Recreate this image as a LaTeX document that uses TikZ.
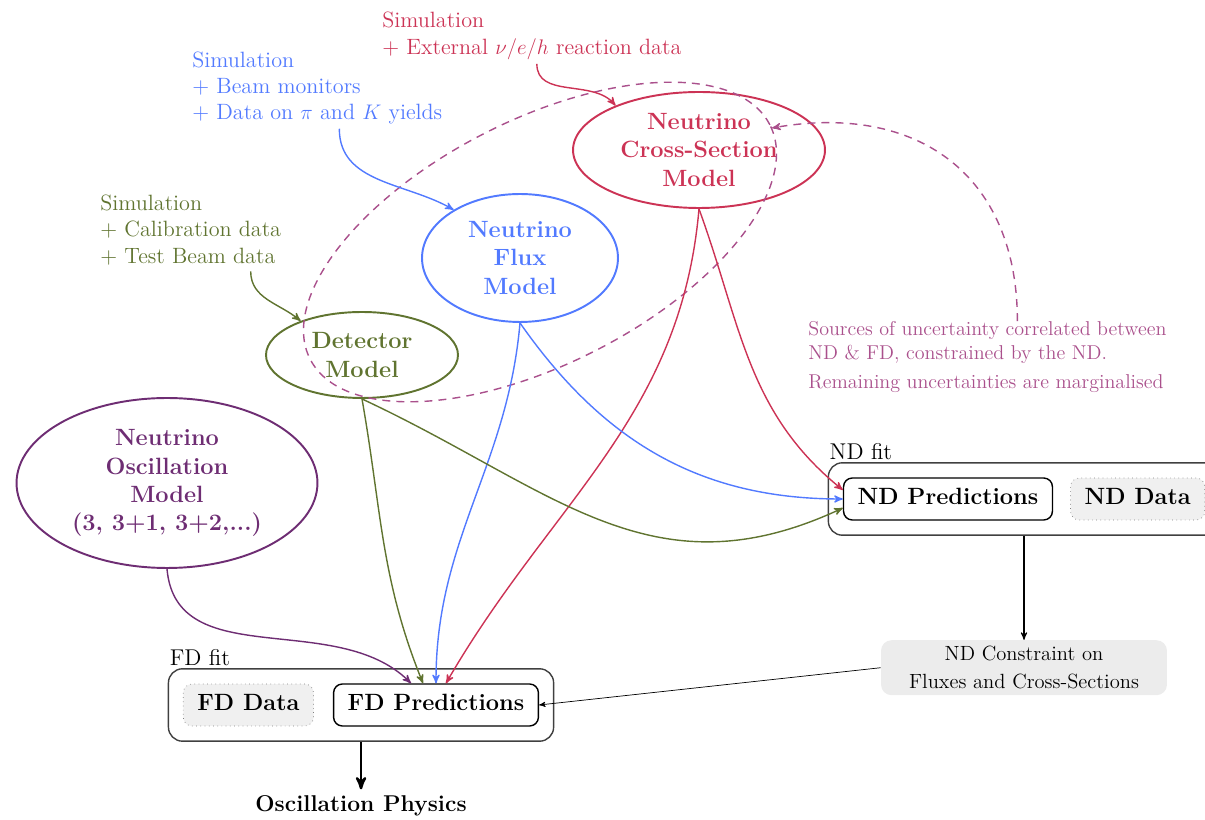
\documentclass[tikz,border=0pt]{standalone}
\usepackage{amsmath}
\usepackage{amssymb}
\usepackage{pgf,tikz}
\usetikzlibrary{shapes, arrows, positioning, calc, fit}
\definecolor{xseccol}{RGB}{204,51,85}
\definecolor{fluxcol}{RGB}{82,122,255}
\definecolor{detcol}{RGB}{96,116,48}
\definecolor{osccol}{RGB}{110,45,115}
\definecolor{corrcol}{RGB}{170,80,140}
\tikzstyle{model} = [ellipse, draw, line width=1.1pt, inner sep=0pt, align=center, font=\fontsize{13.4}{16}\selectfont\bfseries]
\tikzstyle{source} = [align=left, inner sep=0pt, font=\fontsize{12.6}{15}\selectfont]
\tikzstyle{pred} = [draw, thick, rounded corners=5pt, fill=white, minimum height=0.84cm, inner xsep=8pt, text height=9.5pt, text depth=3pt, font=\fontsize{13.4}{16}\selectfont\bfseries]
\tikzstyle{data} = [draw=gray, dotted, rounded corners=5pt, fill=gray!12, minimum height=0.84cm, inner xsep=8pt, text height=9.5pt, text depth=3pt, font=\fontsize{13.4}{16}\selectfont\bfseries]
\tikzstyle{fitbox} = [draw=black!75, thick, rounded corners=8pt, inner sep=0.29cm]
\tikzstyle{fitlabel} = [anchor=south west, inner sep=1pt, font=\fontsize{13}{15}\selectfont]
\tikzstyle{feed} = [->, >=stealth', thick]

\begin{document}
\begin{tikzpicture}[x=0.02cm, y=0.02cm]
	\useasboundingbox (0,0) rectangle (1205,-820);
	% uncertainty sources
	\node[source, xseccol, anchor=west] (xsecsrc) at (382,-36) {Simulation\\+ External $\nu/e/h$ reaction data};
	\node[source, fluxcol, anchor=west] (fluxsrc) at (192,-88) {Simulation\\+ Beam monitors\\+ Data on $\pi$ and $K$ yields};
	\node[source, detcol, anchor=west] (detsrc) at (100,-230) {Simulation\\+ Calibration data\\+ Test Beam data};
	% models
	\node[model, xseccol, minimum width=5.04cm, minimum height=2.32cm] (xsec) at (699,-150) {Neutrino\\Cross-Section\\Model};
	\node[model, fluxcol, minimum width=3.92cm, minimum height=2.56cm] (flux) at (520,-258) {Neutrino\\Flux\\Model};
	\node[model, detcol, minimum width=3.84cm, minimum height=1.72cm] (det) at (362,-355) {Detector\\Model};
	\node[model, osccol, minimum width=6.02cm, minimum height=3.4cm] (osc) at (167,-483) {Neutrino\\Oscillation\\Model\\(3, 3+1, 3+2,...)};
	% correlated sources
	\draw[corrcol, line width=0.8pt, dash pattern=on 4.5pt off 3.5pt, rotate around={27:(540,-242)}] (540,-242) ellipse (258 and 122);
	\coordinate (corrend) at (772,-128);
	\node[align=left, inner sep=0pt, corrcol, anchor=west, font=\fontsize{11.4}{13.6}\selectfont] (note) at (808,-357) {Sources of uncertainty correlated between\\ND \& FD, constrained by the ND.\\[3pt]Remaining uncertainties are marginalised};
	% fits
	\node[pred] (ndpred) at (948,-499) {ND Predictions};
	\node[data, right=0.34cm of ndpred] (nddata) {ND Data};
	\node[fitbox, fit=(ndpred)(nddata)] (ndfit) {};
	\node[fitlabel] at (ndfit.north west) {ND fit};
	\node[pred] (fdpred) at (436,-705) {FD Predictions};
	\node[data, left=0.38cm of fdpred] (fddata) {FD Data};
	\node[fitbox, fit=(fddata)(fdpred)] (fdfit) {};
	\node[fitlabel] at (fdfit.north west) {FD fit};
	\node[fill=gray!15, rounded corners=6pt, minimum width=5.72cm, minimum height=1.1cm, align=center, font=\fontsize{11.7}{16}\selectfont, below=2.08cm of ndfit] (constraint) {ND Constraint on\\Fluxes and Cross-Sections};
	\node[below=0.95cm of fdfit, font=\fontsize{13}{15}\selectfont\bfseries] (physics) {Oscillation Physics};
	% inputs to the models
	\draw[feed, xseccol] ($(xsecsrc.south)+(5,-4)$) to[out=-90, in=130] (xsec.152);
	\draw[feed, fluxcol] ($(fluxsrc.south)+(22,-4)$) to[out=-90, in=150] (flux.144);
	\draw[feed, detcol] ($(detsrc.south)+(60,-6)$) to[out=-90, in=140] (det.151);
	\draw[->, >=stealth', corrcol, line width=0.8pt, dash pattern=on 4.5pt off 3.5pt] ($(note.north)+(30,0)$) to[out=90, in=10, looseness=1.2] (corrend);
	% models to predictions
	\draw[feed, xseccol] (xsec.south) to[out=-70, in=141] ($(ndpred.west)+(0,9)$);
	\draw[feed, xseccol] (xsec.south) to[out=-95, in=60] ($(fdpred.north)+(10,0)$);
	\draw[feed, fluxcol] (flux.south) to[out=-55, in=180] (ndpred.west);
	\draw[feed, fluxcol] (flux.south) to[out=-95, in=90] (fdpred.north);
	\draw[feed, detcol] (det.south) to[out=-25, in=205, looseness=1.1] ($(ndpred.west)+(0,-9)$);
	\draw[feed, detcol] (det.south) to[out=-80, in=112] ($(fdpred.north)+(-13,0)$);
	\draw[feed, osccol] (osc.south) to[out=-85, in=135] ($(fdpred.north)+(-25,0)$);
	% constraint
	\draw[->, >=stealth', semithick] (ndfit.south) -- (constraint.north);
	\draw[->, >=stealth', thin] (constraint.west) -- (fdpred.east);
	\draw[->, >=stealth', line width=1.4pt] (fdfit.south) -- (physics.north);
\end{tikzpicture}
\end{document}
